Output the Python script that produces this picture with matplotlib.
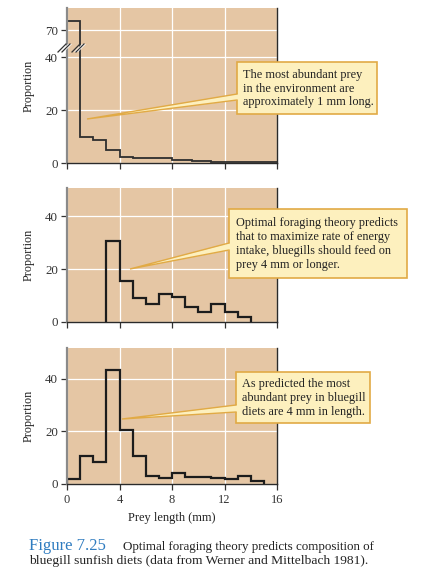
import numpy as np
import matplotlib
matplotlib.use("Agg")
import matplotlib.pyplot as plt
from matplotlib.patches import Rectangle, Polygon

plt.rcParams['font.family'] = ['Liberation Serif', 'DejaVu Serif']

# ---------------- data ----------------
env_edges = [0, 1, 2, 3, 4, 5, 8, 9.5, 11, 14, 16]
env_values = [80, 10, 8.6, 4.9, 2.4, 1.8, 1.2, 0.75, 0.5, 0.25]

pred_edges = [3, 4, 5, 6, 7, 8, 9, 10, 11, 12, 13, 14]
pred_values = [30.5, 15.6, 9.1, 6.8, 10.4, 9.5, 5.6, 3.6, 6.7, 3.6, 1.9]

diet_edges = [0, 1, 2, 3, 4, 5, 6, 7, 8, 9, 10, 11, 12, 13, 14, 15]
diet_values = [2.0, 10.7, 8.4, 43.1, 20.6, 10.6, 3.2, 2.1, 4.2, 2.6, 2.6, 2.3, 1.8, 2.9, 1.3]

x_ticks = [0, 4, 8, 12, 16]
env_yticks = [0, 20, 40, 70]
yticks = [0, 20, 40]

notes = [
    "The most abundant prey\nin the environment are\napproximately 1 mm long.",
    "Optimal foraging theory predicts\nthat to maximize rate of energy\nintake, bluegills should feed on\nprey 4 mm or longer.",
    "As predicted the most\nabundant prey in bluegill\ndiets are 4 mm in length.",
]
caption_head = "Figure 7.25"
caption_l1 = "Optimal foraging theory predicts composition of"
caption_l2 = "bluegill sunfish diets (data from Werner and Mittelbach 1981)."

# ---------------- style ----------------
W, H = 424, 586
BG = '#E5C6A4'
LINE = '#1c1c1c'
BOX_FILL = '#FDF0BE'
BOX_EDGE = '#E1AA45'
TXT = '#222222'

fig = plt.figure(figsize=(W / 100, H / 100), dpi=100)
fig.patch.set_facecolor('white')


def px_axes(left, right, top, bottom):
    return fig.add_axes([left / W, 1 - bottom / H, (right - left) / W, (bottom - top) / H])


def style(ax, ticks_y, show_xlabels):
    ax.set_facecolor(BG)
    ax.set_xlim(0, 16)
    ax.set_xticks(x_ticks)
    ax.set_yticks(ticks_y)
    ax.grid(True, color='white', lw=0.9)
    ax.set_axisbelow(True)
    ax.spines['top'].set_visible(False)
    ax.spines['left'].set_color('#8a8a8a')
    ax.spines['left'].set_linewidth(1.6)
    ax.spines['bottom'].set_color('#2a2a2a')
    ax.spines['bottom'].set_linewidth(1.0)
    ax.spines['right'].set_color('#2a2a2a')
    ax.spines['right'].set_linewidth(1.0)
    ax.tick_params(axis='both', direction='out', length=4.5, width=0.9,
                   colors='#333333', pad=2)
    ax.tick_params(axis='y', labelsize=9.3)
    ax.tick_params(axis='x', labelbottom=show_xlabels, pad=3, labelsize=9)
    ax.set_ylabel("Proportion", fontsize=8.7, color=TXT)
    ax.yaxis.set_label_coords(-0.152, 0.5)


# Panel 1 : environment (broken axis)
k = 0.343


def fwd(y):
    y = np.asarray(y, float)
    return np.where(y <= 40, y, 40 + (y - 40) * k)


def inv(d):
    d = np.asarray(d, float)
    return np.where(d <= 40, d, 40 + (d - 40) / k)


ax1 = px_axes(67, 277, 8, 163)
ax1.set_yscale('function', functions=(fwd, inv))
ax1.set_ylim(0, 94.5)
style(ax1, env_yticks, False)
ax1.yaxis.set_minor_locator(matplotlib.ticker.NullLocator())
ax1.stairs(env_values, env_edges, baseline=None, color='#2e2e2e', lw=1.3)

# Panel 2 : predicted
ax2 = px_axes(67, 277, 188, 322)
ax2.set_ylim(0, 50.6)
style(ax2, yticks, False)
ax2.stairs(pred_values, pred_edges, baseline=0, color=LINE, lw=1.6)

# Panel 3 : observed diet
ax3 = px_axes(67, 277, 348, 484)
ax3.set_ylim(0, 51.6)
style(ax3, yticks, True)
ax3.stairs(diet_values, diet_edges, baseline=0, color=LINE, lw=1.6)
ax3.set_xlabel("Prey length (mm)", fontsize=8.9, color=TXT)
ax3.xaxis.set_label_coords(0.5, -0.25)
ax3.xaxis.label.set_verticalalignment('center')

# ---------------- overlay (callouts, breaks, caption) ----------------
ov = fig.add_axes([0, 0, 1, 1])
ov.set_xlim(0, W)
ov.set_ylim(H, 0)
ov.axis('off')
ov.patch.set_visible(False)

# axis break marks
for bx in (66, 80):
    ov.add_patch(Polygon([(bx - 6, 52), (bx + 2, 44), (bx + 6, 44), (bx - 2, 52)],
                         closed=True, facecolor='white', edgecolor='none', zorder=3))
    for off in (-2, 2):
        ov.plot([bx - 6 + off, bx + 2 + off], [52, 44], color='#333333', lw=0.9, zorder=4)

callouts = [
    # box left, right, top, bottom, wedge y1, y2, apex x, apex y, text x
    (237, 377, 62, 114, 94, 100, 87, 119, 243),
    (229, 407, 209, 278, 243, 250, 130, 269, 236),
    (236, 370, 372, 423, 405, 412, 122, 419, 242),
]
for (l, r, t, b, w1, w2, axp, ayp, tx), note in zip(callouts, notes):
    ov.add_patch(Rectangle((l, t), r - l, b - t, facecolor=BOX_FILL,
                           edgecolor=BOX_EDGE, lw=1.2, zorder=5))
    ov.add_patch(Polygon([(l + 1.5, w1), (axp, ayp), (l + 1.5, w2)], closed=True,
                         facecolor=BOX_FILL, edgecolor='none', zorder=6))
    ov.plot([l, axp, l], [w1, ayp, w2], color=BOX_EDGE, lw=1.0, zorder=6,
            solid_joinstyle='miter')
    ov.text(tx, (t + b) / 2 + 0.5, note, ha='left', va='center', fontsize=8.8,
            color=TXT, linespacing=1.2, zorder=7)

ov.text(29, 550, caption_head, ha='left', va='baseline', fontsize=12,
        color='#2F7CC0')
ov.text(123, 550, caption_l1, ha='left', va='baseline', fontsize=9.4, color=TXT)
ov.text(29, 564, caption_l2, ha='left', va='baseline', fontsize=9.7, color=TXT)

fig.savefig("out.png", dpi=100, facecolor='white')
